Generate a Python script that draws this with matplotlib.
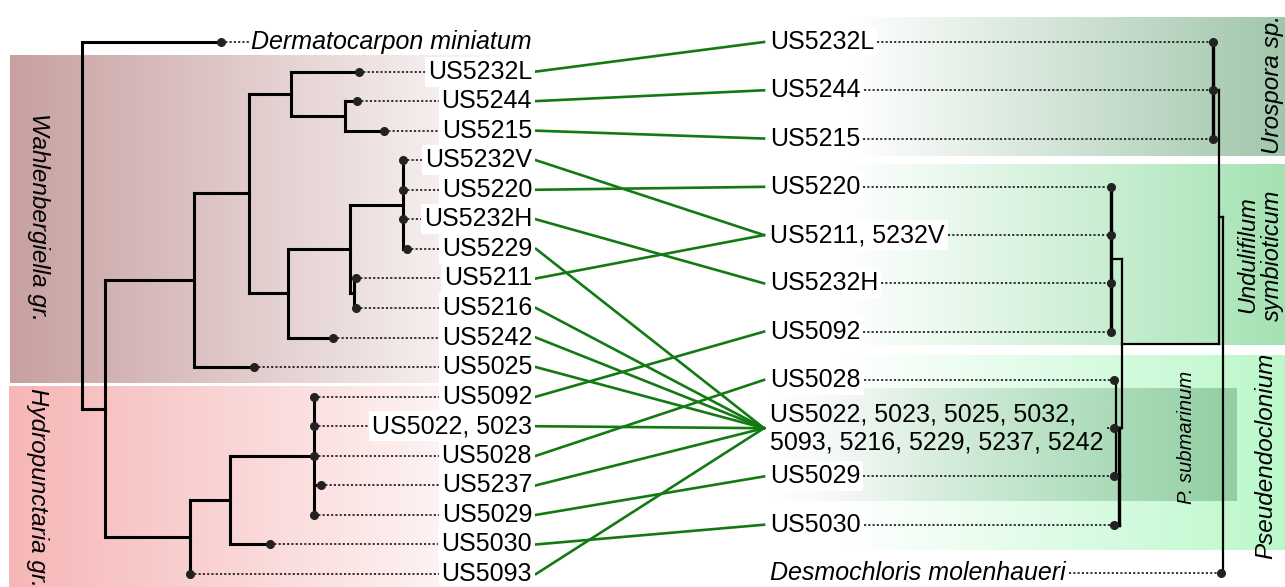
import matplotlib
matplotlib.use("Agg")
import matplotlib.pyplot as plt
import numpy as np

plt.rcParams['font.family'] = ['Liberation Sans', 'DejaVu Sans']

# ---- data ----
left_leaves = ["Dermatocarpon miniatum", "US5232L", "US5244", "US5215", "US5232V",
               "US5220", "US5232H", "US5229", "US5211", "US5216", "US5242", "US5025",
               "US5092", "US5022, 5023", "US5028", "US5237", "US5029", "US5030", "US5093"]
right_leaves = ["US5232L", "US5244", "US5215", "US5220", "US5211, 5232V", "US5232H",
                "US5092", "US5028",
                "US5022, 5023, 5025, 5032,\n5093, 5216, 5229, 5237, 5242",
                "US5029", "US5030", "Desmochloris molenhaueri"]
BIG = right_leaves[8]

# (left label, right label) links
links = [("US5232L", "US5232L"), ("US5244", "US5244"), ("US5215", "US5215"),
         ("US5232V", "US5211, 5232V"), ("US5220", "US5220"), ("US5232H", "US5232H"),
         ("US5229", BIG), ("US5211", "US5211, 5232V"), ("US5216", BIG), ("US5242", BIG),
         ("US5025", BIG), ("US5092", "US5092"), ("US5022, 5023", BIG), ("US5028", "US5028"),
         ("US5237", BIG), ("US5029", "US5029"), ("US5030", "US5030"), ("US5093", BIG)]

# trees: internal node = (depth, [children]); leaf = (name, depth)
left_tree = (82, [("Dermatocarpon miniatum", 221),
                  (105, [(194, [(249, [(291, [("US5232L", 359),
                                              (345, [("US5244", 357), ("US5215", 384)])]),
                                       (288, [(350, [(403, [("US5232V", 403), ("US5220", 403),
                                                            ("US5232H", 403), ("US5229", 407)]),
                                                     (354, [("US5211", 356), ("US5216", 356)])]),
                                              ("US5242", 333)])]),
                                ("US5025", 254)]),
                         (190, [(230, [(314, [("US5092", 314), ("US5022, 5023", 314),
                                              ("US5028", 314), ("US5237", 321), ("US5029", 314)]),
                                       ("US5030", 270)]),
                                ("US5093", 190)])])])

right_tree = (1223, [(1219, [(1213, [("US5232L", 1213), ("US5244", 1213), ("US5215", 1213)]),
                             (1122, [(1111, [("US5220", 1111), ("US5211, 5232V", 1111),
                                             ("US5232H", 1111), ("US5092", 1111)]),
                                     (1116, [("US5028", 1114),
                                             (1119, [(BIG, 1114), ("US5029", 1114),
                                                     ("US5030", 1114)])])])]),
                     ("Desmochloris molenhaueri", 1221)])

italic_names = {"Dermatocarpon miniatum", "Desmochloris molenhaueri"}

# ---- figure ----
W, H = 1285, 587
fig = plt.figure(figsize=(W / 100, H / 100), dpi=100)
ax = fig.add_axes([0, 0, 1, 1])
ax.set_xlim(0, W)
ax.set_ylim(H, 0)
ax.axis('off')

left_y = dict(zip(left_leaves, np.linspace(42, 574, len(left_leaves))))
right_y = dict(zip(right_leaves, np.linspace(42, 573, len(right_leaves))))


def band(x0, x1, y0, y1, c0, c1, a0=1.0, a1=1.0):
    n = 256
    t = np.linspace(0, 1, n)
    img = np.zeros((2, n, 4))
    for k in range(3):
        img[:, :, k] = (c0[k] + (c1[k] - c0[k]) * t) / 255
    img[:, :, 3] = a0 + (a1 - a0) * t
    ax.imshow(img, extent=(x0, x1, y1, y0), aspect='auto', zorder=0, interpolation='bilinear')


band(10, 530, 55, 383, (200, 160, 160), (255, 255, 255))
band(9, 530, 386, 590, (246, 182, 182), (255, 255, 255))
band(850, 1290, 17, 156, (255, 255, 255), (160, 198, 170))
band(845, 1290, 164, 345, (255, 255, 255), (163, 226, 178))
band(845, 1290, 355, 550, (255, 255, 255), (186, 248, 202))
band(770, 1237, 388, 501, (100, 165, 118), (100, 165, 118), 0.0, 0.5)
ax.set_xlim(0, W)
ax.set_ylim(H, 0)


def draw_tree(node, ys, lw_leaf, lw_inner):
    # returns (y, depth) of the node
    if isinstance(node[0], str):
        name, d = node
        ax.plot(d, ys[name], 'o', color='#222222', ms=5.5, zorder=4)
        return ys[name], d
    d, kids = node
    pos = [draw_tree(k, ys, lw_leaf, lw_inner) for k in kids]
    cy = [p[0] for p in pos]
    leafy = all(isinstance(k[0], str) for k in kids)
    lw = lw_leaf if leafy else lw_inner
    ax.plot([d, d], [min(cy), max(cy)], color='black', lw=lw, solid_capstyle='projecting', zorder=3)
    for y, cd in pos:
        ax.plot([d, cd], [y, y], color='black', lw=lw, solid_capstyle='projecting', zorder=3)
    return (min(cy) + max(cy)) / 2, d


def leaf_depths(node, out):
    if isinstance(node[0], str):
        out[node[0]] = node[1]
    else:
        for k in node[1]:
            leaf_depths(k, out)
    return out


draw_tree(left_tree, left_y, 2.2, 2.2)
draw_tree(right_tree, right_y, 2.4, 1.6)
left_d = leaf_depths(left_tree, {})
right_d = leaf_depths(right_tree, {})

fs = 18
ltexts = {}
for name in left_leaves:
    if name in italic_names:
        t = ax.text(251, left_y[name], name, ha='left', va='center', fontsize=fs,
                    style='italic', zorder=5)
    else:
        t = ax.text(532, left_y[name], name, ha='right', va='center', fontsize=fs, zorder=5,
                    bbox=dict(boxstyle='square,pad=0.12', fc='white', ec='none'))
    ltexts[name] = t

rtexts = {}
for name in right_leaves:
    kw = dict(ha='left', va='center', fontsize=fs, zorder=5)
    if name in italic_names:
        kw['style'] = 'italic'
    elif name != BIG:
        kw['bbox'] = dict(boxstyle='square,pad=0.12', fc='white', ec='none')
    rtexts[name] = ax.text(770, right_y[name], name, **kw)

fig.canvas.draw()
r = fig.canvas.get_renderer()
inv = ax.transData.inverted()
dot = dict(color='black', lw=1.1, ls=(0, (1.4, 1.4)), zorder=2)
for name, t in ltexts.items():
    bb = t.get_window_extent(r).transformed(inv)
    ax.plot([left_d[name], bb.x0 - 2], [left_y[name]] * 2, **dot)
for name, t in rtexts.items():
    bb = t.get_window_extent(r).transformed(inv)
    ax.plot([bb.x1 + 3, right_d[name]], [right_y[name]] * 2, **dot)

for a, b in links:
    ax.plot([536, 764], [left_y[a], right_y[b]], color='#137a13', lw=1.9, zorder=1.5)

# group labels
ax.text(38, 217, "Wahlenbergiella gr.", rotation=-90, ha='center', va='center',
        fontsize=17.5, style='italic')
ax.text(37, 388, "Hydropunctaria gr.", rotation=-90, ha='center', va='top',
        fontsize=17.5, style='italic')
ax.text(1273, 84, "Urospora sp.", rotation=90, ha='center', va='center',
        fontsize=17.5, style='italic')
ax.text(1260, 255, "Undulifilum\nsymbioticum", rotation=90, ha='center', va='center',
        fontsize=17, style='italic', linespacing=1.05)
ax.text(1266, 456, "Pseudendoclonium", rotation=90, ha='center', va='center',
        fontsize=17.5, style='italic')
ax.text(1187, 437, "P. submarinum", rotation=90, ha='center', va='center',
        fontsize=14.5, style='italic')

fig.savefig("out.png", dpi=100)
